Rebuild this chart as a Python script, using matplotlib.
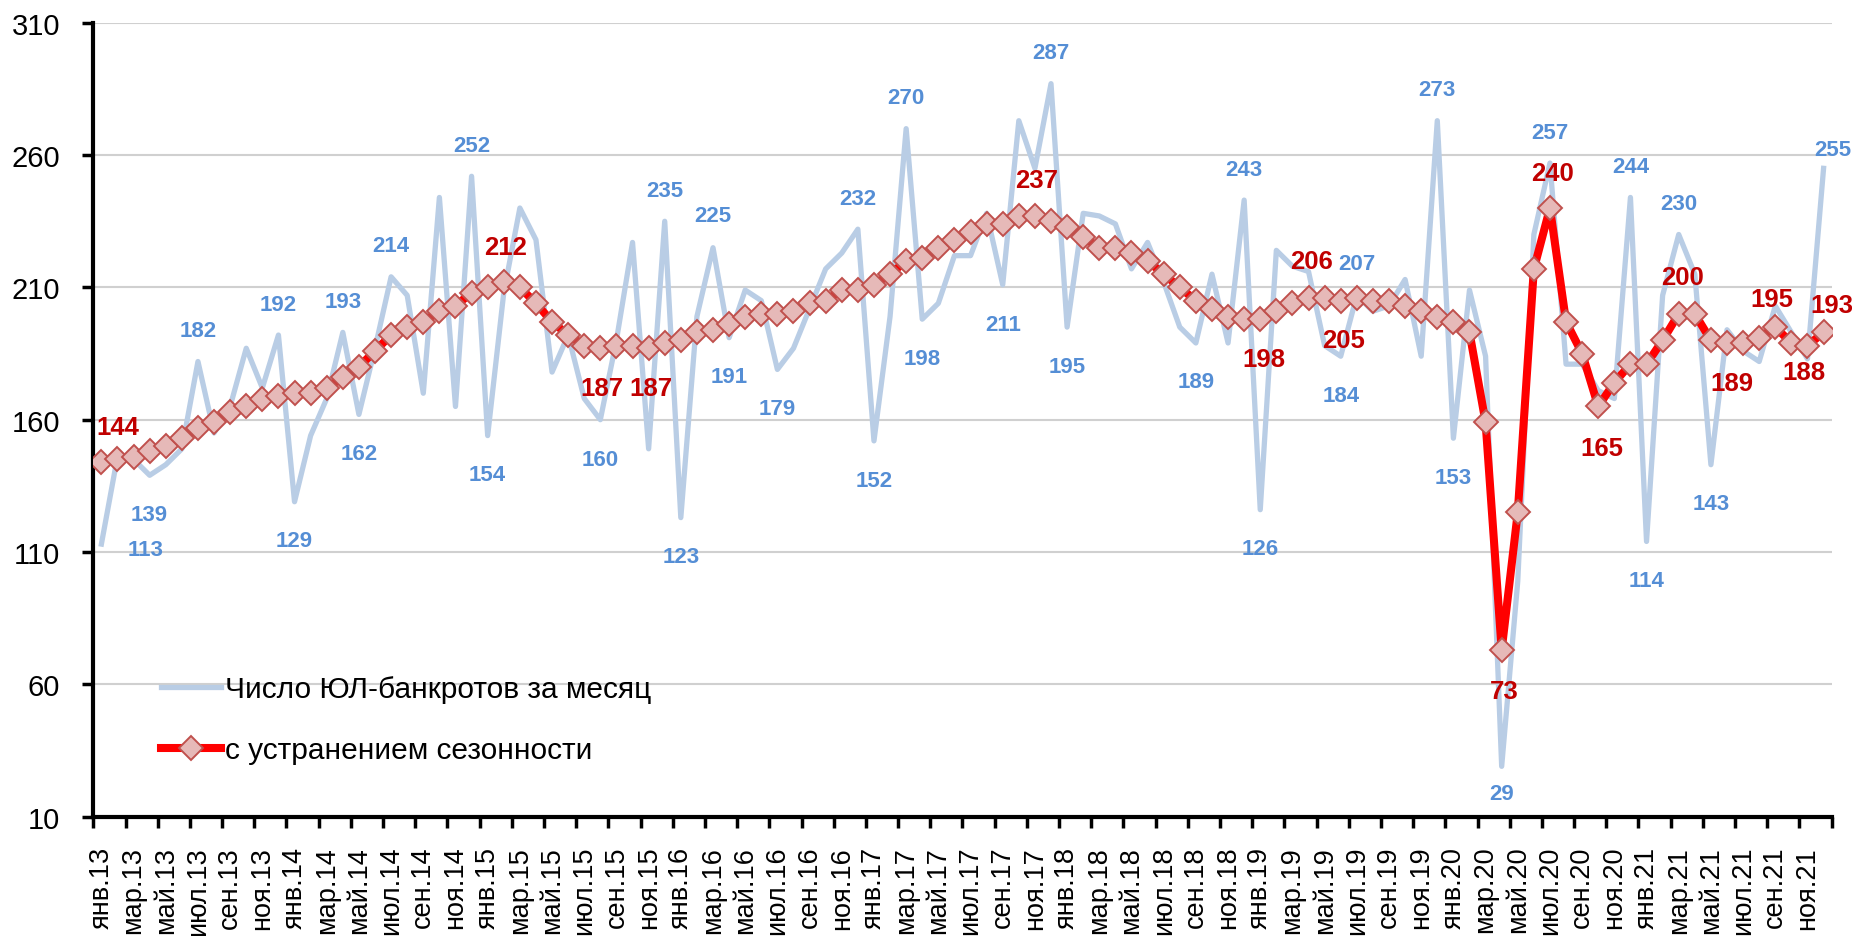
import numpy as np
import matplotlib as mpl
mpl.use('Agg')
import matplotlib.pyplot as plt
from matplotlib.lines import Line2D
from matplotlib.ticker import FixedLocator


# --- data ---------------------------------------------------------------
month_names = ['янв', 'фев', 'мар', 'апр', 'май', 'июн',
               'июл', 'авг', 'сен', 'окт', 'ноя', 'дек']
years = ['13', '14', '15', '16', '17', '18', '19', '20', '21']

# число ЮЛ-банкротов за месяц, янв.13 - дек.21
monthly = [113, 146, 145, 139, 143, 149, 182, 155, 165, 187, 172, 192,
           129, 154, 168, 193, 162, 187, 214, 207, 170, 244, 165, 252,
           154, 208, 240, 228, 178, 192, 168, 160, 190, 227, 149, 235,
           123, 199, 225, 191, 209, 205, 179, 187, 202, 217, 223, 232,
           152, 199, 270, 198, 204, 222, 222, 238, 211, 273, 255, 287,
           195, 238, 237, 234, 217, 227, 212, 195, 189, 215, 189, 243,
           126, 224, 218, 216, 188, 184, 207, 201, 203, 213, 184, 273,
           153, 209, 184, 29, 99, 230, 257, 181, 181, 171, 168, 244,
           114, 207, 230, 215, 143, 194, 186, 182, 203, 193, 183, 255]

# с устранением сезонности
adjusted = [144, 145, 146, 148, 150, 153, 157, 159, 163, 165, 168, 169,
            170, 170, 172, 176, 180, 186, 192, 195, 197, 201, 203, 208,
            210, 212, 210, 204, 197, 192, 188, 187, 188, 188, 187, 189,
            190, 193, 194, 196, 199, 200, 200, 201, 204, 205, 209, 209,
            211, 215, 220, 221, 225, 228, 231, 234, 234, 237, 237, 235,
            233, 229, 225, 225, 223, 220, 215, 210, 205, 202, 199, 198,
            198, 201, 204, 206, 206, 205, 206, 205, 205, 203, 201, 199,
            197, 193, 159, 73, 125, 217, 240, 197, 185, 165, 174, 181,
            181, 190, 200, 200, 190, 189, 189, 191, 195, 189, 188, 193]

series_names = ['Число ЮЛ-банкротов за месяц', 'с устранением сезонности']

# which points carry a value label, and where the label sits (pixels)
blue_labels = [(0, 44, -5), (3, 0, -39), (6, 0, 31), (11, 0, 31), (12, 0, -39),
               (15, 0, 31), (16, 0, -39), (18, 0, 31), (23, 0, 31), (24, 0, -39),
               (31, 0, -40), (35, 0, 31), (36, 0, -39), (38, 0, 32), (39, 0, -39),
               (42, 0, -39), (47, 0, 31), (48, 0, -40), (50, 0, 31), (51, 0, -39),
               (56, 0, -40), (59, 0, 31), (60, 0, -39), (68, 0, -39), (71, 0, 31),
               (72, 0, -39), (77, 0, -39), (78, 0, 32), (83, 0, 31), (84, 0, -39),
               (87, 0, -27), (90, 0, 31), (95, 0, 31), (96, 0, -39), (98, 0, 31),
               (100, 0, -39), (107, 9, 19)]
red_labels = [(0, 16, 35), (25, 2, 35), (31, 2, -40), (34, 2, -40), (58, 2, 36),
              (72, 4, -40), (75, 3, 37), (77, 3, -39), (87, 3, -41), (90, 3, 35),
              (93, 4, -42), (98, 4, 37), (101, 5, -40), (104, -3, 28),
              (106, -4, -26), (107, 8, 27)]

categories = ['%s.%s' % (m, y) for y in years for m in month_names]

font = ['Liberation Sans', 'DejaVu Sans']
plt.rcParams['font.family'] = font

blue_line = '#b9cde5'
blue_text = '#558ed5'
red_line = '#ff0000'
red_text = '#c00000'
marker_face = '#e6b9b8'
marker_edge = '#c0504d'

# --- figure ---------------------------------------------------------------
fig = plt.figure(figsize=(18.52, 9.37), dpi=100)
ax = fig.add_axes([0.0504, 0.1274, 0.9386, 0.8472])

x = np.arange(len(monthly))
ax.plot(x, monthly, color=blue_line, linewidth=3.8, zorder=2)
ax.plot(x, adjusted, color=red_line, linewidth=5.8, marker='D', markersize=12,
        markerfacecolor=marker_face, markeredgecolor=marker_edge,
        markeredgewidth=1.4, zorder=3)

for i, dx, dy in blue_labels:
    ax.annotate(str(monthly[i]), xy=(i, monthly[i]), xytext=(dx, dy),
                textcoords='offset pixels', ha='center', va='center',
                color=blue_text, fontsize=16, fontweight='bold', zorder=5)
for i, dx, dy in red_labels:
    ax.annotate(str(adjusted[i]), xy=(i, adjusted[i]), xytext=(dx, dy),
                textcoords='offset pixels', ha='center', va='center',
                color=red_text, fontsize=18.5, fontweight='bold', zorder=5)

ax.set_xlim(-0.5, len(monthly) - 0.5)
ax.set_ylim(10, 310)
ax.set_yticks(np.arange(10, 311, 50))
ax.yaxis.grid(True, color='#d0d0d0', linewidth=1.5)
ax.set_axisbelow(True)

# labels on every second month, tick marks on the category boundaries
ax.set_xticks(np.arange(0, len(monthly), 2))
ax.set_xticklabels(categories[::2], rotation=90, va='top', ha='center',
                   fontsize=19.5)
ax.xaxis.set_minor_locator(FixedLocator(np.arange(-0.5, len(monthly), 2)))
ax.tick_params(axis='x', which='major', length=0, pad=21)
ax.tick_params(axis='x', which='minor', length=8, width=2.5, direction='out')
ax.tick_params(axis='y', length=8, width=2.5, direction='out', pad=16,
               labelsize=21)

for side in ['top', 'right']:
    ax.spines[side].set_visible(False)
for side in ['left', 'bottom']:
    ax.spines[side].set_linewidth(3)
    ax.spines[side].set_color('black')

handles = [Line2D([], [], color=blue_line, linewidth=3.8),
           Line2D([], [], color=red_line, linewidth=5.8, marker='D',
                  markersize=12, markerfacecolor=marker_face,
                  markeredgecolor=marker_edge, markeredgewidth=1.4)]
ax.legend(handles, series_names, loc='upper left',
          bbox_to_anchor=(0.039, 0.178), frameon=False, borderpad=0,
          borderaxespad=0, handlelength=2.0, handletextpad=0.15,
          labelspacing=1.1, numpoints=1, fontsize=21.5)

fig.savefig('out.png', dpi=100)
